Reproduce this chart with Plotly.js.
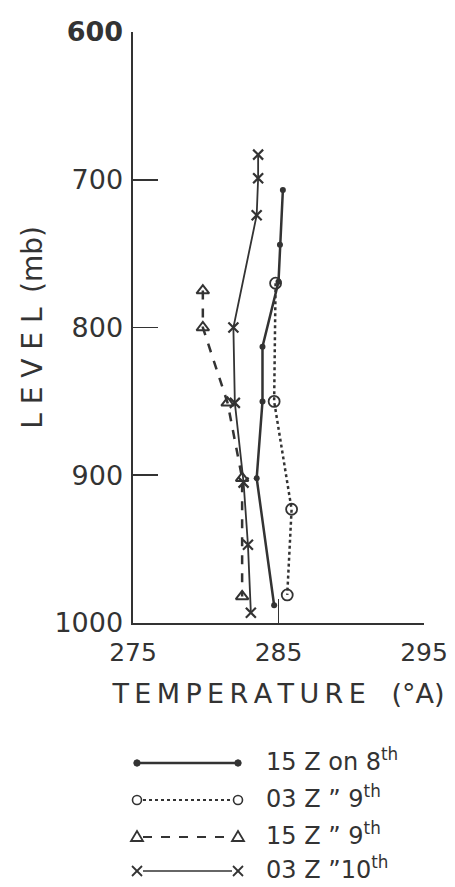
<!DOCTYPE html>
<html>
<head>
<meta charset="utf-8">
<script src="https://cdn.plot.ly/plotly-3.0.1.min.js"></script>
<style>
html,body{margin:0;padding:0;background:#fff;}
#chart{width:455px;height:887px;}
</style>
</head>
<body>
<div id="chart"></div>
<script>
// ---- data ----
const seriesNames = ["15 Z on 8", "03 Z \u201D 9", "15 Z \u201D 9", "03 Z \u201D10"];
const seriesSup = ["th", "th", "th", "th"];

const temp15Z8 = [285.3, 285.1, 285.0, 283.9, 283.9, 283.5, 284.7];
const lev15Z8  = [707, 744, 769, 813, 850, 902, 988];

const temp03Z9 = [284.8, 284.7, 285.9, 285.6];
const lev03Z9  = [770, 850, 923, 981];

const temp15Z9 = [279.8, 279.8, 281.5, 282.5, 282.5];
const lev15Z9  = [775, 800, 851, 902, 982];

const temp03Z10 = [283.6, 283.6, 283.5, 281.9, 282.0, 282.6, 282.9, 283.1];
const lev03Z10  = [683, 699, 724, 800, 851, 905, 947, 993];

const xTickVals = [275, 285, 295];
const xTickText = ["275", "285", "295"];
const yTickVals = [600, 700, 800, 900, 1000];
const yTickText = ["<b>600</b>", "700", "800", "900", "1000"];

// ---- styling ----
const INK = "#333333";
const FONT = "DejaVu Sans";
const thin = "\u2009";
const punc = "\u2008";

const traces = [
  {x: temp15Z8, y: lev15Z8, name: seriesNames[0], mode: "lines+markers",
   line: {color: INK, width: 2.5}, marker: {symbol: "circle", size: 6, color: INK}},
  {x: temp03Z9, y: lev03Z9, name: seriesNames[1], mode: "lines+markers",
   line: {color: INK, width: 2.5, dash: "dot"},
   marker: {symbol: "circle-open", size: 11, color: INK, line: {width: 1.8, color: INK}}},
  {x: temp15Z9, y: lev15Z9, name: seriesNames[2], mode: "lines+markers",
   line: {color: INK, width: 2.5, dash: "dash"},
   marker: {symbol: "triangle-up-open", size: 11, color: INK, line: {width: 2, color: INK}}},
  {x: temp03Z10, y: lev03Z10, name: seriesNames[3], mode: "lines+markers",
   line: {color: INK, width: 1.8},
   marker: {symbol: "x-thin-open", size: 10, color: INK, line: {width: 2.2, color: INK}}}
];

// ---- pixel -> paper helper for the hand-made key ----
const L = 133, R = 424, T = 32, B = 623;
function px(X){ return (X - L) / (R - L); }
function py(Y){ return (B - Y) / (B - T); }

const keyRows = [763, 800, 837, 871];
const kx0 = 137, kx1 = 238;
const shapes = [];
const annotations = [];

keyRows.forEach((Y, i) => {
  const dash = ["solid", "dot", "dash", "solid"][i];
  const w = [2.5, 2, 2, 1.5][i];
  const inset = i === 0 ? 0 : 6;
  shapes.push({type: "line", xref: "paper", yref: "paper",
    x0: px(kx0 + inset), x1: px(kx1 - inset), y0: py(Y), y1: py(Y),
    line: {color: INK, width: w, dash: dash}});
  [kx0, kx1].forEach(X => {
    if (i === 0) {
      shapes.push({type: "circle", xref: "paper", yref: "paper",
        x0: px(X - 3.2), x1: px(X + 3.2), y0: py(Y - 3.2), y1: py(Y + 3.2),
        fillcolor: INK, line: {color: INK, width: 1}});
    } else if (i === 1) {
      shapes.push({type: "circle", xref: "paper", yref: "paper",
        x0: px(X - 4.5), x1: px(X + 4.5), y0: py(Y - 4.5), y1: py(Y + 4.5),
        line: {color: INK, width: 1.6}});
    } else if (i === 2) {
      const p = `M${px(X - 6)},${py(Y + 4)} L${px(X + 6)},${py(Y + 4)} L${px(X)},${py(Y - 6)} Z`;
      shapes.push({type: "path", xref: "paper", yref: "paper", path: p,
        line: {color: INK, width: 1.8}});
    } else {
      shapes.push({type: "line", xref: "paper", yref: "paper",
        x0: px(X - 5), x1: px(X + 5), y0: py(Y - 5), y1: py(Y + 5), line: {color: INK, width: 1.8}});
      shapes.push({type: "line", xref: "paper", yref: "paper",
        x0: px(X - 5), x1: px(X + 5), y0: py(Y + 5), y1: py(Y - 5), line: {color: INK, width: 1.8}});
    }
  });
  annotations.push({xref: "paper", yref: "paper", x: px(264), y: py(Y - 3),
    xanchor: "left", yanchor: "middle", showarrow: false,
    text: seriesNames[i] + "<sup>" + seriesSup[i] + "</sup>",
    font: {family: FONT, size: 24, color: INK}});
});

const xTitle = "TEMPERATURE".split("").join(thin) + "\u00a0\u00a0\u00a0(\u00b0A)";
const yTitle = "LEVEL".split("").join(punc) + "\u00a0" + thin + "(mb)\u00a0\u00a0\u00a0\u00a0\u00a0\u00a0";

const layout = {
  width: 455, height: 887,
  margin: {l: L, r: 455 - R, t: T, b: 887 - B},
  paper_bgcolor: "#ffffff", plot_bgcolor: "#ffffff",
  showlegend: false,
  xaxis: {
    range: [275, 295], showgrid: false, zeroline: false,
    showline: true, linecolor: INK, linewidth: 2,
    ticks: "inside", ticklen: 24, tickwidth: 1.6, tickcolor: INK,
    tickvals: xTickVals, ticktext: xTickText,
    tickfont: {family: FONT, size: 25, color: INK},
    ticklabelstandoff: 6,
    title: {text: xTitle, font: {family: FONT, size: 27, color: INK}, standoff: 18}
  },
  yaxis: {
    range: [1000, 600], showgrid: false, zeroline: false,
    showline: true, linecolor: INK, linewidth: 2.5,
    ticks: "inside", ticklen: 25, tickwidth: 1.6, tickcolor: INK,
    tickvals: yTickVals, ticktext: yTickText,
    tickfont: {family: FONT, size: 27, color: INK},
    ticklabelstandoff: 2,
    title: {text: yTitle, font: {family: FONT, size: 28, color: INK}, standoff: 4}
  },
  shapes: shapes,
  annotations: annotations
};

Plotly.newPlot("chart", traces, layout, {displayModeBar: false, staticPlot: true});
</script>
</body>
</html>
